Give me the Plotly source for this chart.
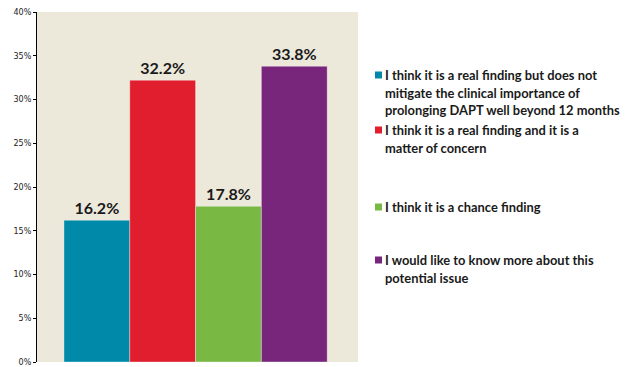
import plotly.graph_objects as go

categories = [
    "I think it is a real finding but does not<br>mitigate the clinical importance of<br>prolonging DAPT well beyond 12 months",
    "I think it is a real finding and it is a<br>matter of concern",
    "I think it is a chance finding",
    "I would like to know more about this<br>potential issue",
]
values = [16.2, 32.2, 17.8, 33.8]
labels = ["16.2%", "32.2%", "17.8%", "33.8%"]
colors = ["#0089A8", "#E01E2D", "#78B843", "#78267C"]
tick_vals = [0, 5, 10, 15, 20, 25, 30, 35, 40]
tick_text = ["0%", "5%", "10%", "15%", "20%", "25%", "30%", "35%", "40%"]

# page body adds an 8px offset, so the figure is laid out 8px smaller
OFF = 8
W, H = 631 - OFF, 367 - OFF
ml, mr, mt, mb = 37 - OFF, 273, 12 - OFF, 5
pw = W - ml - mr
ph = H - mt - mb
LINE = 17.5
legend_y = [75 - OFF, 130 - OFF, 207 - OFF, 260 - OFF]  # centres of first lines
sw_x0, txt_x = 375 - OFF, 383 - OFF

fig = go.Figure()
for name, v, lab, c in zip(categories, values, labels, colors):
    fig.add_trace(go.Bar(
        x=[0], y=[v], name=name, text=[lab], textposition="outside",
        textfont=dict(family="Lato", size=16, color="#1a1a1a", weight="bold"),
        marker=dict(color=c, line=dict(width=0.6, color="rgba(255,255,255,0.6)")),
        showlegend=False, cliponaxis=False,
    ))

for name, c, yp in zip(categories, colors, legend_y):
    yp_paper = 1 - (yp - mt) / ph
    fig.add_shape(type="rect", xref="paper", yref="paper",
                  x0=(sw_x0 - ml) / pw, x1=(sw_x0 + 7 - ml) / pw,
                  y0=yp_paper - 3.5 / ph, y1=yp_paper + 3.5 / ph,
                  fillcolor=c, line=dict(width=0))
    for i, line in enumerate(name.split("<br>")):
        fig.add_annotation(xref="paper", yref="paper",
                           x=(txt_x - ml) / pw, y=1 - (yp + i * LINE - mt) / ph,
                           xanchor="left", yanchor="middle", align="left", showarrow=False,
                           text=line,
                           font=dict(family="Lato", size=12.9, color="#1a1a1a", weight="bold"))

fig.update_layout(
    width=W, height=H,
    margin=dict(l=ml, r=mr, t=mt, b=mb, autoexpand=False),
    paper_bgcolor="white", plot_bgcolor="#ECE8DA",
    barmode="group", bargap=0.18, bargroupgap=0,
    xaxis=dict(range=[-0.494, 0.506], showticklabels=False, showgrid=False,
               zeroline=False, showline=False, ticks="", automargin=False),
    yaxis=dict(range=[0, 40], tickvals=tick_vals, ticktext=tick_text, automargin=False,
               ticklabeloverflow="allow",
               showgrid=False, zeroline=False, showline=True, linecolor="black",
               linewidth=1.2, ticks="outside", ticklen=3, tickcolor="black",
               tickfont=dict(family="DejaVu Sans", size=8, color="#222")),
)

fig.write_html("out.html")
